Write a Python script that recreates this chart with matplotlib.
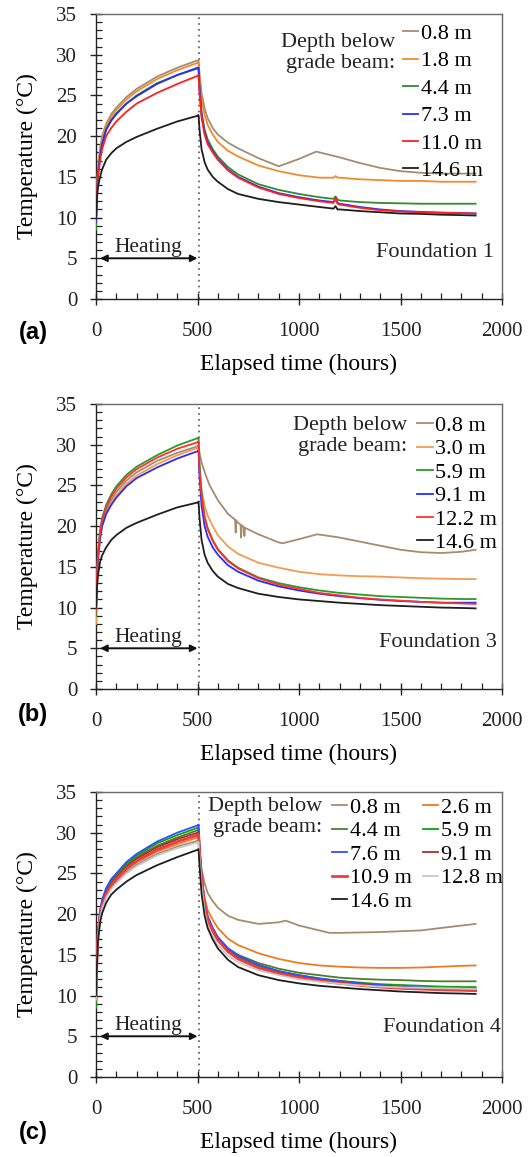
import matplotlib
matplotlib.use("Agg")
import matplotlib.pyplot as plt
from matplotlib.ticker import MultipleLocator

plt.rcParams['font.family'] = ['Liberation Serif', 'DejaVu Serif']

# ---------------- Data ----------------
# Panel (a) Foundation 1
t_a = [0, 5, 10, 20, 30, 50, 75, 100, 150, 200, 300, 400, 500, 505,
       510, 520, 535, 550, 575, 600, 650, 700, 800, 900, 1000, 1100, 1170, 1180, 1190, 1200,
       1300, 1400, 1500, 1600, 1700, 1800, 1870]
a_18 = [9.5, 13.5, 15.8, 18.0, 19.5, 21.2, 22.4, 23.2, 24.5, 25.5, 27.0, 28.1, 29.0, 29.0,
        27.0, 24.5, 22.6, 21.4, 20.2, 19.3, 18.2, 17.5, 16.4, 15.7, 15.2, 14.9, 14.9, 15.1, 14.9, 14.9,
        14.7, 14.6, 14.5, 14.5, 14.4, 14.4, 14.4]
a_44 = [8.5, 13.0, 15.3, 17.5, 19.0, 20.8, 22.0, 22.8, 24.0, 25.0, 26.5, 27.5, 28.3, 28.3,
        26.0, 23.0, 20.8, 19.6, 18.4, 17.5, 16.2, 15.3, 14.1, 13.4, 12.9, 12.5, 12.3, 12.6, 12.2, 12.1,
        11.9, 11.8, 11.75, 11.7, 11.7, 11.7, 11.7]
a_73 = [9.5, 13.0, 15.3, 17.5, 19.0, 20.8, 21.9, 22.7, 24.0, 24.9, 26.4, 27.5, 28.4, 28.4,
        25.8, 22.6, 20.4, 19.2, 18.1, 17.2, 15.9, 15.0, 13.8, 13.0, 12.5, 12.1, 11.9, 12.3, 11.8, 11.7,
        11.3, 11.0, 10.8, 10.7, 10.6, 10.55, 10.5]
a_110 = [10.0, 13.0, 15.0, 17.0, 18.4, 20.0, 21.0, 21.8, 23.0, 24.0, 25.3, 26.4, 27.4, 27.5,
         25.3, 22.3, 20.2, 19.0, 18.0, 17.1, 15.8, 14.9, 13.7, 12.9, 12.4, 12.0, 11.8, 12.4, 11.7, 11.6,
         11.2, 10.9, 10.75, 10.65, 10.6, 10.55, 10.5]
a_146 = [10.0, 12.5, 13.8, 15.0, 15.9, 17.1, 17.9, 18.5, 19.3, 19.9, 20.9, 21.8, 22.5, 22.6,
         20.8, 18.4, 16.8, 15.9, 15.0, 14.4, 13.5, 12.9, 12.3, 11.9, 11.6, 11.3, 11.1, 11.4, 11.0, 11.0,
         10.8, 10.65, 10.5, 10.45, 10.35, 10.3, 10.25]
t_a08 = [0, 5, 10, 20, 30, 50, 75, 100, 150, 200, 300, 400, 500, 505,
         510, 520, 535, 550, 575, 600, 650, 700, 800, 900, 1000, 1085, 1200, 1300, 1400, 1500,
         1600, 1700, 1800, 1870]
a_08 = [10.0, 14.0, 16.3, 18.5, 20.0, 21.5, 22.7, 23.5, 24.8, 25.8, 27.3, 28.4, 29.3, 29.3,
        27.6, 25.3, 23.4, 22.2, 21.0, 20.2, 19.2, 18.5, 17.3, 16.3, 17.2, 18.1, 17.4, 16.7, 16.1, 15.7,
        15.5, 15.4, 15.4, 15.4]

# Panel (b) Foundation 3
t_b = [0, 5, 10, 20, 30, 50, 75, 100, 150, 200, 300, 400, 500, 505,
       510, 520, 535, 550, 575, 600, 650, 700, 800, 900, 1000, 1100, 1200, 1300, 1400, 1500,
       1600, 1700, 1800, 1870]
b_30 = [8.0, 13.0, 15.8, 18.5, 20.0, 21.5, 22.8, 23.8, 25.2, 26.2, 27.6, 28.7, 29.6, 29.7,
        27.0, 24.5, 22.5, 21.3, 20.0, 18.9, 17.5, 16.6, 15.5, 14.9, 14.4, 14.1, 13.95, 13.85, 13.8, 13.7,
        13.6, 13.55, 13.5, 13.5]
b_59 = [9.0, 14.0, 16.8, 19.5, 21.0, 22.6, 23.9, 24.9, 26.3, 27.3, 28.7, 29.9, 30.8, 30.9,
        27.5, 24.0, 21.2, 19.8, 18.3, 17.2, 15.8, 14.9, 13.7, 13.0, 12.5, 12.1, 11.8, 11.6, 11.4, 11.3,
        11.2, 11.1, 11.05, 11.05]
b_91 = [10.0, 13.5, 16.0, 18.5, 20.0, 21.5, 22.6, 23.5, 24.9, 25.9, 27.2, 28.3, 29.2, 29.3,
        26.0, 22.5, 20.0, 18.7, 17.4, 16.5, 15.2, 14.4, 13.3, 12.6, 12.1, 11.7, 11.4, 11.15, 10.95, 10.8,
        10.7, 10.6, 10.6, 10.6]
b_122 = [9.5, 14.0, 16.6, 19.2, 20.7, 22.3, 23.6, 24.6, 26.0, 27.0, 28.4, 29.5, 30.3, 30.4,
         27.0, 23.7, 21.0, 19.6, 18.2, 17.1, 15.7, 14.8, 13.6, 12.8, 12.3, 11.8, 11.5, 11.2, 11.0, 10.85,
         10.7, 10.6, 10.5, 10.45]
b_146 = [10.0, 12.5, 14.0, 15.6, 16.4, 17.4, 18.3, 18.9, 19.8, 20.4, 21.4, 22.3, 22.9, 23.0,
         21.0, 18.3, 16.5, 15.5, 14.5, 13.8, 12.9, 12.4, 11.7, 11.3, 11.0, 10.8, 10.6, 10.45, 10.3, 10.2,
         10.1, 10.0, 9.95, 9.9]
t_b08 = [0, 5, 10, 20, 30, 50, 75, 100, 150, 200, 300, 400, 500, 505,
         510, 520, 540, 560, 600, 650, 685, 688, 691, 700, 712, 715, 718, 728, 731, 734,
         750, 800, 900, 920, 1000, 1090, 1200, 1300, 1400, 1500, 1600, 1700, 1800, 1870]
b_08 = [9.0, 13.5, 16.2, 18.5, 20.2, 21.8, 23.2, 24.2, 25.6, 26.6, 28.0, 29.0, 29.8, 29.9,
        29.0, 27.8, 26.3, 25.0, 23.2, 21.5, 20.8, 19.2, 20.7, 20.4, 20.2, 18.6, 20.1, 19.9, 18.8, 19.8,
        19.6, 19.0, 18.0, 17.9, 18.4, 19.0, 18.6, 18.1, 17.6, 17.1, 16.8, 16.7, 16.85, 17.1]

# Panel (c) Foundation 4
t_c = [0, 5, 10, 20, 30, 50, 75, 100, 150, 200, 300, 400, 500, 505,
       510, 520, 535, 550, 575, 600, 650, 700, 800, 900, 1000, 1100, 1200, 1300, 1400, 1500,
       1600, 1700, 1800, 1870]
c_26 = [9.5, 14.5, 17.5, 19.8, 21.0, 22.5, 23.6, 24.3, 25.5, 26.4, 27.7, 28.6, 29.4, 29.5,
        27.5, 24.5, 22.0, 20.5, 19.3, 18.3, 17.0, 16.2, 15.2, 14.5, 14.0, 13.7, 13.55, 13.45, 13.4, 13.4,
        13.45, 13.55, 13.65, 13.7]
c_44 = [9.0, 14.5, 17.6, 20.0, 21.3, 22.8, 24.0, 24.7, 26.0, 27.0, 28.4, 29.4, 30.3, 30.4,
        28.0, 24.5, 21.2, 19.6, 18.2, 17.1, 15.8, 15.0, 14.0, 13.3, 12.8, 12.5, 12.2, 12.05, 11.95, 11.9,
        11.8, 11.75, 11.75, 11.75]
c_59 = [8.5, 14.5, 17.7, 20.2, 21.5, 23.0, 24.2, 24.9, 26.2, 27.2, 28.7, 29.7, 30.6, 30.7,
        28.2, 24.7, 21.3, 19.7, 18.2, 17.1, 15.7, 14.8, 13.7, 13.0, 12.5, 12.1, 11.8, 11.6, 11.4, 11.3,
        11.2, 11.1, 11.05, 11.05]
c_76 = [10.0, 15.0, 18.0, 20.5, 21.8, 23.2, 24.3, 25.0, 26.4, 27.4, 28.9, 30.0, 30.9, 31.0,
        28.5, 25.0, 21.5, 19.8, 18.3, 17.2, 15.8, 14.9, 13.8, 13.0, 12.5, 12.1, 11.8, 11.5, 11.3, 11.1,
        11.0, 10.9, 10.85, 10.8]
c_91 = [9.5, 14.5, 17.5, 19.8, 21.2, 22.6, 23.7, 24.5, 25.8, 26.8, 28.2, 29.2, 30.0, 30.1,
        27.8, 24.4, 21.0, 19.4, 18.0, 16.9, 15.5, 14.6, 13.5, 12.8, 12.3, 11.9, 11.6, 11.35, 11.15, 11.0,
        10.9, 10.8, 10.75, 10.7]
c_109 = [9.5, 14.5, 17.4, 19.7, 21.0, 22.4, 23.5, 24.3, 25.6, 26.5, 27.9, 28.9, 29.7, 29.8,
         27.6, 24.3, 21.0, 19.3, 17.9, 16.8, 15.4, 14.5, 13.4, 12.7, 12.2, 11.8, 11.5, 11.25, 11.05, 10.9,
         10.8, 10.7, 10.65, 10.6]
c_128 = [9.5, 14.0, 17.1, 19.5, 20.7, 22.0, 23.1, 23.8, 25.0, 25.9, 27.2, 28.1, 28.8, 28.9,
         27.0, 23.5, 20.3, 18.6, 17.3, 16.2, 14.9, 14.1, 13.1, 12.5, 12.0, 11.7, 11.45, 11.25, 11.1, 11.0,
         10.95, 10.9, 10.85, 10.8]
c_146 = [10.0, 14.0, 16.8, 19.0, 20.1, 21.4, 22.4, 23.0, 24.0, 24.8, 26.0, 27.0, 27.9, 28.0,
         26.0, 22.5, 19.8, 18.3, 16.9, 15.8, 14.4, 13.5, 12.5, 11.9, 11.5, 11.2, 11.0, 10.8, 10.65, 10.5,
         10.4, 10.3, 10.25, 10.2]
t_c08 = [0, 5, 10, 20, 30, 50, 75, 100, 150, 200, 300, 400, 500, 505,
         510, 520, 535, 550, 575, 600, 650, 700, 800, 900, 935, 1000, 1100, 1150, 1200, 1300,
         1400, 1500, 1600, 1700, 1800, 1870]
c_08 = [9.5, 14.5, 17.4, 19.6, 20.9, 22.2, 23.3, 24.0, 25.2, 26.1, 27.4, 28.3, 29.0, 29.1,
        27.5, 25.5, 23.8, 22.6, 21.6, 20.8, 19.8, 19.3, 18.8, 19.0, 19.2, 18.6, 18.0, 17.7, 17.7, 17.75,
        17.8, 17.9, 18.0, 18.3, 18.6, 18.8]

labels_a = ['0.8 m', '1.8 m', '4.4 m', '7.3 m', '11.0 m', '14.6 m']
labels_b = ['0.8 m', '3.0 m', '5.9 m', '9.1 m', '12.2 m', '14.6 m']
labels_c = ['0.8 m', '2.6 m', '4.4 m', '5.9 m', '7.6 m', '9.1 m', '10.9 m', '12.8 m', '14.6 m']

heating_end = 509
x_ticks = [0, 500, 1000, 1500, 2000]
y_ticks = [0, 5, 10, 15, 20, 25, 30, 35]

# ---------------- Figure ----------------
W, H = 531, 1157
fig = plt.figure(figsize=(W / 100, H / 100), dpi=100)

def frac_box(left_px, top_px, right_px, bottom_px):
    return [left_px / W, 1 - bottom_px / H, (right_px - left_px) / W, (bottom_px - top_px) / H]

ax_a = fig.add_axes(frac_box(96, 14, 502, 299))
ax_b = fig.add_axes(frac_box(96, 404, 502, 689))
ax_c = fig.add_axes(frac_box(96, 792, 502, 1077))

TAN = '#a48d6f'
BLACK = '#1e1e1e'

series_a = [(t_a08, a_08, TAN), (t_a, a_18, '#f08a2c'), (t_a, a_44, '#2e8b2e'),
            (t_a, a_73, '#2b2bff'), (t_a, a_110, '#ff2020'), (t_a, a_146, BLACK)]
series_b = [(t_b08, b_08, TAN), (t_b, b_30, '#f59a4e'), (t_b, b_59, '#2a9a2a'),
            (t_b, b_91, '#2b2bff'), (t_b, b_122, '#ff3030'), (t_b, b_146, BLACK)]
series_c = [(t_c08, c_08, TAN), (t_c, c_26, '#f07a20'), (t_c, c_44, '#4d7d2a'),
            (t_c, c_59, '#10a010'), (t_c, c_76, '#3050ff'), (t_c, c_91, '#a0302a'),
            (t_c, c_109, '#f03c3c'), (t_c, c_128, '#c8c8c8'), (t_c, c_146, BLACK)]

def style_axes(ax):
    ax.set_xlim(0, 2000)
    ax.set_ylim(0, 35)
    ax.set_xticks(x_ticks)
    ax.set_yticks(y_ticks)
    ax.xaxis.set_minor_locator(MultipleLocator(100))
    ax.yaxis.set_minor_locator(MultipleLocator(1))
    ax.tick_params(axis='both', which='major', direction='inout', length=9, width=1.0,
                   labelsize=15, colors='#222222')
    ax.tick_params(axis='x', which='major', pad=12)
    ax.tick_params(axis='y', which='major', pad=9)
    ax.tick_params(axis='both', which='minor', direction='in', length=4, width=0.9, colors='#222222')
    for s in ['left', 'bottom']:
        ax.spines[s].set_color('#222222')
    for s in ['top', 'right']:
        ax.spines[s].set_color('#6a6a6a')
    for s in ax.spines.values():
        s.set_linewidth(1.0)
    ax.set_ylabel('Temperature (°C)', fontsize=17, labelpad=13)
    ax.set_xlabel('Elapsed time (hours)', fontsize=17, labelpad=9)
    ax.axvline(heating_end, color='#555555', ls=(0, (1, 2.5)), lw=1.2, zorder=1)
    ax.annotate('', xy=(20, 5), xytext=(500, 5),
                arrowprops=dict(arrowstyle='<|-|>', color='#111111', lw=1.4,
                                mutation_scale=10, shrinkA=0, shrinkB=0))
    ax.text(260, 6.3, 'Heating', ha='center', va='center', fontsize=15.5, color='#222222')

def plot_panel(ax, series, labels, lw_map=None):
    handles = []
    for i, (t, v, c) in enumerate(series):
        lw = 1.3
        if lw_map and i in lw_map:
            lw = lw_map[i]
        h, = ax.plot(t, v, color=c, lw=lw, label=labels[i], zorder=3)
        handles.append(h)
    return handles

for ax in (ax_a, ax_b, ax_c):
    style_axes(ax)

h_a = plot_panel(ax_a, series_a, labels_a)
h_b = plot_panel(ax_b, series_b, labels_b)
h_c = plot_panel(ax_c, series_c, labels_c, lw_map={6: 2.0})

leg_kw = dict(frameon=False, fontsize=16, handlelength=0.7, handletextpad=0.1,
              borderpad=0, borderaxespad=0, loc='upper left')
ax_a.legend(handles=h_a, bbox_to_anchor=(0.756, 0.967), labelspacing=0.31, **leg_kw)
ax_b.legend(handles=h_b, bbox_to_anchor=(0.791, 0.96), labelspacing=0.13, **leg_kw)
# panel (c): two columns, filled row by row
col1_c = [h_c[i] for i in (0, 2, 4, 6, 8)]
col2_c = [h_c[i] for i in (1, 3, 5, 7)]
leg_c1 = ax_c.legend(handles=col1_c, bbox_to_anchor=(0.581, 0.981), labelspacing=0.13, **leg_kw)
ax_c.add_artist(leg_c1)
ax_c.legend(handles=col2_c, bbox_to_anchor=(0.805, 0.981), labelspacing=0.13, **leg_kw)

depth_txt = 'Depth below\ngrade beam:'
ax_a.text(0.736, 0.863, depth_txt, transform=ax_a.transAxes, ha='right', va='center',
          fontsize=16, linespacing=1.2, multialignment='right', color='#222222')
ax_b.text(0.766, 0.888, depth_txt, transform=ax_b.transAxes, ha='right', va='center',
          fontsize=16, linespacing=1.12, multialignment='right', color='#222222')
ax_c.text(0.557, 0.912, depth_txt, transform=ax_c.transAxes, ha='right', va='center',
          fontsize=16, linespacing=1.12, multialignment='right', color='#222222')

ax_a.text(1962, 5.7, 'Foundation 1', ha='right', va='center', fontsize=16, color='#222222')
ax_b.text(1975, 5.65, 'Foundation 3', ha='right', va='center', fontsize=16, color='#222222')
ax_c.text(1995, 6.1, 'Foundation 4', ha='right', va='center', fontsize=16, color='#222222')

for lab, ypx in (('(a)', 332), ('(b)', 714), ('(c)', 1132)):
    fig.text(33 / W, 1 - ypx / H, lab, ha='center', va='center', fontsize=17,
             fontweight='bold', family=['Liberation Sans', 'DejaVu Sans'])

fig.savefig('out.png', dpi=100, facecolor='white')
